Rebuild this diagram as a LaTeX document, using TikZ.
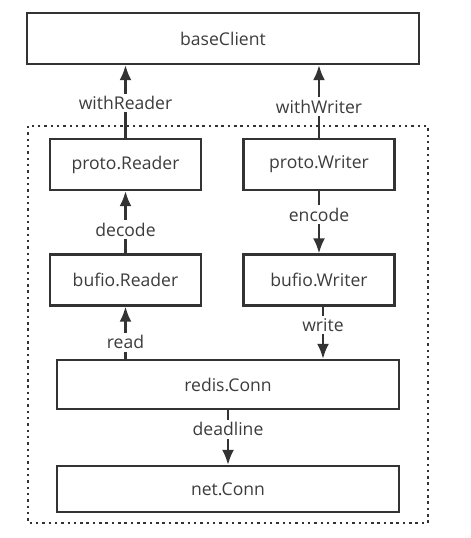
\documentclass[tikz,border=0pt]{standalone}
\usepackage{fontspec}
\setmainfont{Open Sans}
\usepackage{tikz}
\usetikzlibrary{arrows.meta}

\definecolor{inkgray}{HTML}{333333}
\definecolor{txtgray}{HTML}{3C3C3C}

\begin{document}
\begin{tikzpicture}[every node/.style={font=\fontsize{10}{12}\selectfont, text=txtgray},
	layerbox/.style={draw=inkgray, line width=1.3pt, minimum height=1.02cm, inner sep=0pt},
	flow/.style={draw=inkgray, line width=1.3pt, -{Latex[length=3mm,width=2.4mm]}},
	flowlabel/.style={fill=white, inner sep=1.5pt}]
	\useasboundingbox (0,0) rectangle (9.4,-10.76);
	\draw[inkgray, line width=1.4pt, dash pattern=on 1.4pt off 2.2pt] (0.56,-2.52) rectangle (8.56,-10.46);
	\node[layerbox, minimum width=7.84cm] (client) at (4.46,-0.77) {baseClient};
	\node[layerbox, minimum width=3.02cm] (preader) at (2.51,-3.29) {proto.Reader};
	\node[layerbox, minimum width=3.02cm] (pwriter) at (6.38,-3.29) {proto.Writer};
	\node[layerbox, minimum width=3.02cm] (breader) at (2.51,-5.60) {bufio.Reader};
	\node[layerbox, minimum width=3.02cm] (bwriter) at (6.38,-5.60) {bufio.Writer};
	\node[layerbox, minimum width=6.84cm, minimum height=0.98cm] (rconn) at (4.56,-7.69) {redis.Conn};
	\node[layerbox, minimum width=6.84cm, minimum height=0.92cm] (nconn) at (4.56,-9.78) {net.Conn};
	\coordinate (wtail) at ([xshift=0.08cm]bwriter.south);
	% reading side goes up, writing side goes down
	\draw[flow] (preader.north) -- node[flowlabel, pos=0.48] {withReader} (preader.north |- client.south);
	\draw[flow] (pwriter.north) -- node[flowlabel, pos=0.43] {withWriter} (pwriter.north |- client.south);
	\draw[flow] (breader.north) -- node[flowlabel, pos=0.38] {decode} (preader.south);
	\draw[flow] (pwriter.south) -- node[flowlabel, pos=0.38] {encode} (bwriter.north);
	\draw[flow] (rconn.north -| breader.south) -- node[flowlabel, pos=0.32] {read} (breader.south);
	\draw[flow] (wtail) -- node[flowlabel, pos=0.35] {write} (wtail |- rconn.north);
	\draw[flow] (rconn.south) -- node[flowlabel, pos=0.35] {deadline} (nconn.north);
\end{tikzpicture}
\end{document}
